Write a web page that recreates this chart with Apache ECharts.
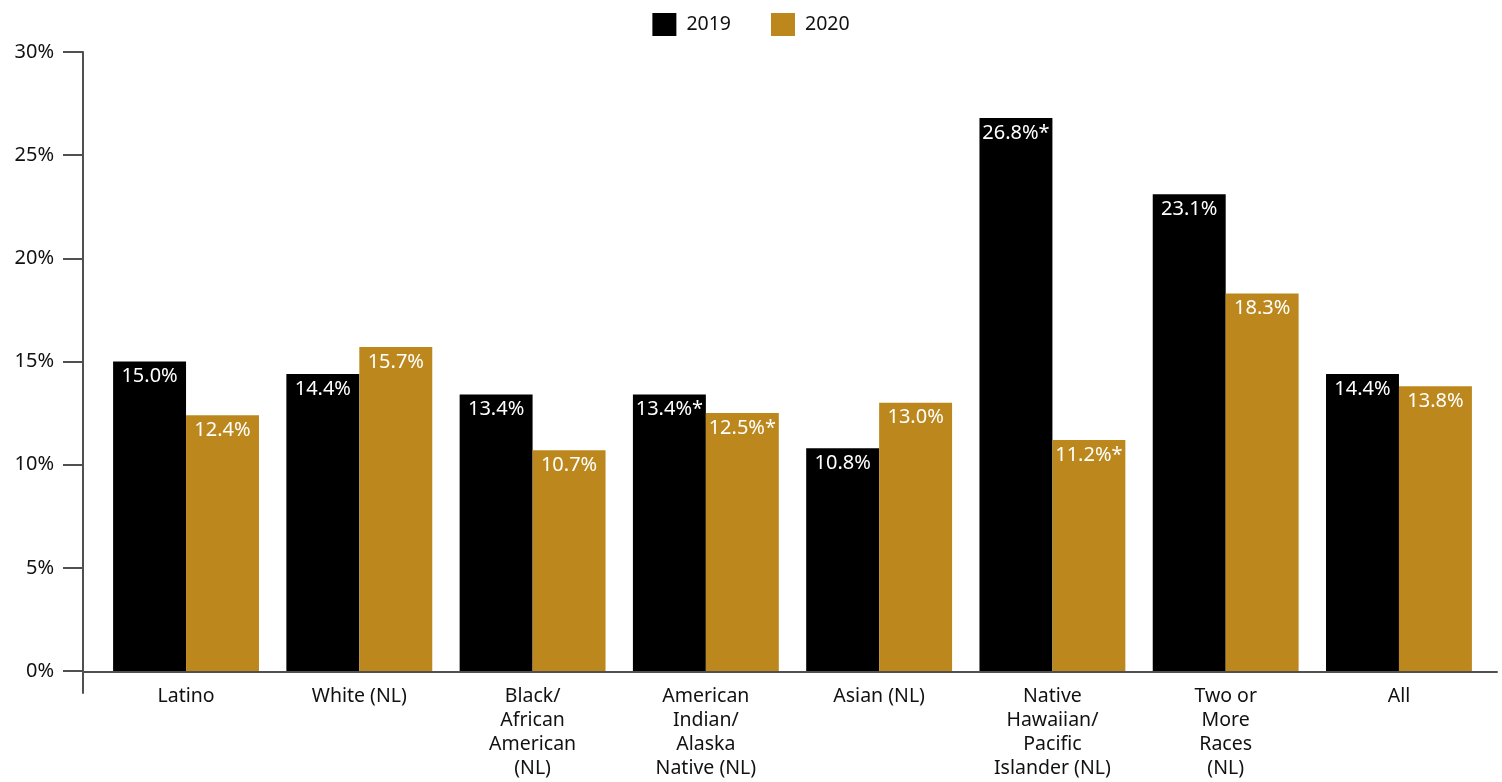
<!DOCTYPE html>
<html>
<head>
<meta charset="utf-8">
<script src="https://cdn.jsdelivr.net/npm/echarts@6/dist/echarts.min.js"></script>
<style>
  html, body { margin: 0; padding: 0; background: #fff; }
  #chart { width: 1502px; height: 782px; }
</style>
</head>
<body>
<div id="chart"></div>
<script>
// Share of each group, by year (percent)
const categories = [
  'Latino',
  'White (NL)',
  'Black/\nAfrican\nAmerican\n(NL)',
  'American\nIndian/\nAlaska\nNative (NL)',
  'Asian (NL)',
  'Native\nHawaiian/\nPacific\nIslander (NL)',
  'Two or\nMore\nRaces\n(NL)',
  'All'
];
const values2019 = [15.0, 14.4, 13.4, 13.4, 10.8, 26.8, 23.1, 14.4];
const values2020 = [12.4, 15.7, 10.7, 12.5, 13.0, 11.2, 18.3, 13.8];
// Estimates flagged with an asterisk
const flagged2019 = [false, false, false, true, false, true, false, false];
const flagged2020 = [false, false, false, true, false, true, false, false];
const yTicks = [0, 5, 10, 15, 20, 25, 30];

const FONT = '"Noto Sans", "Open Sans", sans-serif';
const LINE = '#505050';
const GOLD = '#bc881d';

const chart = echarts.init(document.getElementById('chart'), null, { renderer: 'canvas' });

function labelFor(flags) {
  return {
    show: true,
    position: 'insideTop',
    distance: 5,
    color: '#ffffff',
    fontFamily: FONT,
    fontSize: 20,
    formatter: p => p.value.toFixed(1) + '%' + (flags[p.dataIndex] ? '*' : '')
  };
}

chart.setOption({
  animation: false,
  textStyle: { fontFamily: FONT },
  legend: {
    top: 8,
    left: 'center',
    itemWidth: 24,
    itemHeight: 23,
    itemGap: 40,
    icon: 'rect',
    textStyle: { fontFamily: FONT, fontSize: 19.5, color: '#111', padding: [0, 0, 0, 5] },
    data: ['2019', '2020']
  },
  grid: [
    // plotting area for the bars
    { left: 99.4, right: 16.4, top: 52, bottom: 111 },
    // frame: vertical axis line and the zero baseline
    { left: 83, right: 5, top: 52, bottom: 89 }
  ],
  xAxis: [
    {
      gridIndex: 0,
      type: 'category',
      data: categories,
      axisLine: { show: false },
      axisTick: { show: false },
      axisLabel: {
        margin: 13,
        color: '#111',
        fontFamily: FONT,
        fontSize: 19.5,
        lineHeight: 24,
        align: 'center',
        interval: 0
      }
    },
    {
      gridIndex: 1,
      type: 'value',
      min: 0,
      max: 1,
      axisLine: { show: true, onZero: true, lineStyle: { color: LINE, width: 2 } },
      axisTick: { show: false },
      axisLabel: { show: false },
      splitLine: { show: false }
    }
  ],
  yAxis: [
    {
      gridIndex: 0,
      type: 'value',
      min: yTicks[0],
      max: yTicks[yTicks.length - 1],
      interval: 5,
      offset: 16.4,
      axisLine: { show: false },
      axisTick: { show: true, length: 20, lineStyle: { color: LINE, width: 2 } },
      axisLabel: {
        margin: 29,
        color: '#111',
        fontFamily: FONT,
        fontSize: 20,
        formatter: v => v + '%'
      },
      splitLine: { show: false }
    },
    {
      gridIndex: 1,
      type: 'value',
      min: -30 * 21 / 619,
      max: 30,
      axisLine: { show: true, lineStyle: { color: LINE, width: 2 } },
      axisTick: { show: false },
      axisLabel: { show: false },
      splitLine: { show: false }
    }
  ],
  series: [
    {
      name: '2019',
      type: 'bar',
      xAxisIndex: 0,
      yAxisIndex: 0,
      data: values2019,
      itemStyle: { color: '#000000' },
      barGap: '0%',
      barCategoryGap: '15.8%',
      label: labelFor(flagged2019)
    },
    {
      name: '2020',
      type: 'bar',
      xAxisIndex: 0,
      yAxisIndex: 0,
      data: values2020,
      itemStyle: { color: GOLD },
      barGap: '0%',
      barCategoryGap: '15.8%',
      label: labelFor(flagged2020)
    }
  ]
});
</script>
</body>
</html>
